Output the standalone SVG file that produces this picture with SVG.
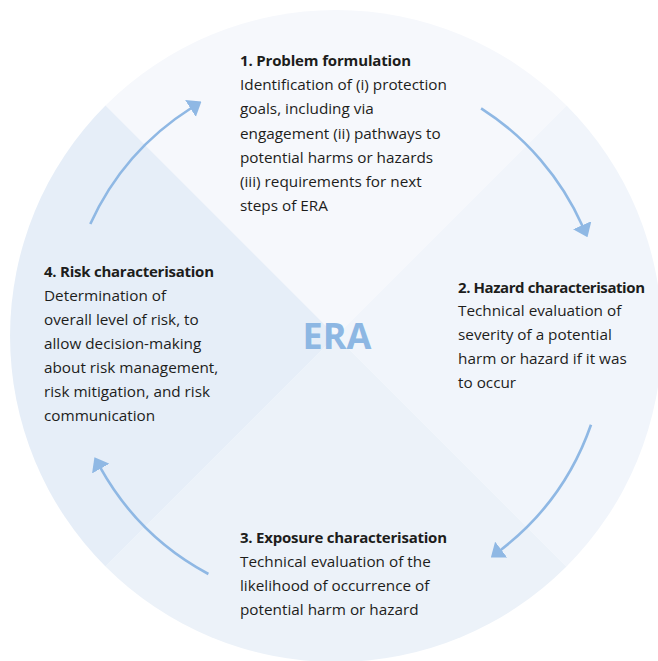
<svg xmlns="http://www.w3.org/2000/svg" width="658" height="661" viewBox="0 0 658 661">
  <style>
    text { font-family: "Open Sans", "Noto Sans", "Liberation Sans", sans-serif; fill: #1d1d1b; }
    .body { font-size: 15.3px; }
    .head { font-size: 15px; font-weight: 700; }
    .era { font-size: 36px; font-weight: 700; fill: #8db7e3; }
    .flow { fill: none; stroke: #8fb8e4; stroke-width: 2.6; marker-end: url(#head); }
  </style>
  <defs>
    <marker id="head" markerUnits="userSpaceOnUse" viewBox="0 -10 13 20" refX="1" refY="0" markerWidth="13" markerHeight="20" orient="auto">
      <path d="M0,-10 L13,0 L0,10 Z" fill="#8fb8e4"/>
    </marker>
  </defs>

  <rect width="658" height="661" fill="#ffffff"/>

  <!-- four quadrants of the cycle disc -->
  <g id="disc">
    <path d="M336,336 L105.5,105.5 A326,326 0 0 1 566.5,105.5 Z" fill="#f6f8fc"/>
    <path d="M336,336 L566.5,105.5 A326,326 0 0 1 566.5,566.5 Z" fill="#f1f5fb"/>
    <path d="M336,336 L566.5,566.5 A326,326 0 0 1 105.5,566.5 Z" fill="#ecf2f9"/>
    <path d="M336,336 L105.5,566.5 A326,326 0 0 1 105.5,105.5 Z" fill="#e6eef8"/>
  </g>

  <!-- curved arrows between steps -->
  <g id="connectors">
    <path class="flow" d="M90.3,224 A270,270 0 0 1 191.3,108"/>
    <path class="flow" d="M481.1,108.3 A270,270 0 0 1 582.6,226.2"/>
    <path class="flow" d="M591,424.8 A270,270 0 0 1 500.4,550.2"/>
    <path class="flow" d="M208.4,574 A270,270 0 0 1 100.3,467.7"/>
  </g>

  <g id="centre">
    <text class="era" x="337" y="349" text-anchor="middle">ERA</text>
  </g>

  <g id="step1">
    <text class="head" x="240" y="66" textLength="171" lengthAdjust="spacing">1. Problem formulation</text>
    <text class="body" x="240" y="90">Identification of (i) protection</text>
    <text class="body" x="240" y="114">goals, including via</text>
    <text class="body" x="240" y="138.5">engagement (ii) pathways to</text>
    <text class="body" x="240" y="162.5">potential harms or hazards</text>
    <text class="body" x="240" y="186.5">(iii) requirements for next</text>
    <text class="body" x="240" y="210.5">steps of ERA</text>
  </g>

  <g id="step2">
    <text class="head" x="458" y="292.5" textLength="187" lengthAdjust="spacing">2. Hazard characterisation</text>
    <text class="body" x="458" y="316">Technical evaluation of</text>
    <text class="body" x="458" y="340">severity of a potential</text>
    <text class="body" x="458" y="364">harm or hazard if it was</text>
    <text class="body" x="458" y="388">to occur</text>
  </g>

  <g id="step3">
    <text class="head" x="240" y="542.5" textLength="207" lengthAdjust="spacing">3. Exposure characterisation</text>
    <text class="body" x="240" y="566.5">Technical evaluation of the</text>
    <text class="body" x="240" y="590.5">likelihood of occurrence of</text>
    <text class="body" x="240" y="614.5">potential harm or hazard</text>
  </g>

  <g id="step4">
    <text class="head" x="44" y="276.5" textLength="170" lengthAdjust="spacing">4. Risk characterisation</text>
    <text class="body" x="44" y="300.5">Determination of</text>
    <text class="body" x="44" y="324.5">overall level of risk, to</text>
    <text class="body" x="44" y="348.5">allow decision-making</text>
    <text class="body" x="44" y="372.5">about risk management,</text>
    <text class="body" x="44" y="396.5">risk mitigation, and risk</text>
    <text class="body" x="44" y="420.5">communication</text>
  </g>
</svg>
